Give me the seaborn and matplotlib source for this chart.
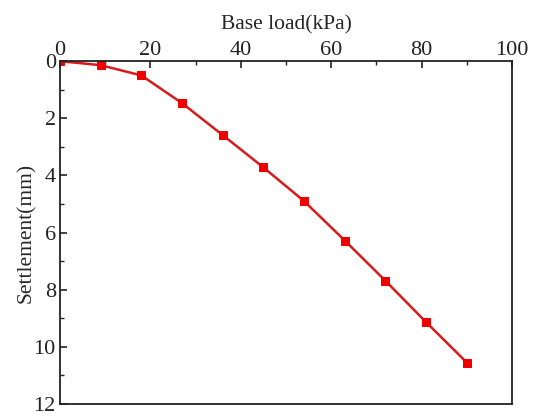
import matplotlib
matplotlib.use("Agg")
import matplotlib.pyplot as plt
from matplotlib.ticker import MultipleLocator
import seaborn as sns
import pandas as pd

base_load = [0, 9, 18, 27, 36, 45, 54, 63, 72, 81, 90]
settlement = [0.0, 0.14, 0.50, 1.47, 2.59, 3.72, 4.90, 6.28, 7.69, 9.14, 10.55]

df = pd.DataFrame({"Base load(kPa)": base_load, "Settlement(mm)": settlement})

sns.set_style("ticks")
plt.rcParams["font.family"] = ["Liberation Serif", "DejaVu Serif"]

fig = plt.figure(figsize=(5.34, 4.19), dpi=100)
ax = fig.add_axes([0.1124, 0.036, 0.8464, 0.818])

sns.lineplot(data=df, x="Base load(kPa)", y="Settlement(mm)", ax=ax,
             color="#d91a1a", linewidth=1.8, marker="s", markersize=5.5,
             markerfacecolor="#ee0000", markeredgecolor="#ee0000")

ax.set_xlim(0, 100)
ax.set_ylim(12, 0)
ax.xaxis.set_major_locator(MultipleLocator(20))
ax.xaxis.set_minor_locator(MultipleLocator(10))
ax.yaxis.set_major_locator(MultipleLocator(2))
ax.yaxis.set_minor_locator(MultipleLocator(1))

ax.xaxis.tick_top()
ax.xaxis.set_label_position("top")
ax.tick_params(axis="both", which="both", direction="in", labelsize=16,
               colors="#222222")
ax.tick_params(axis="both", which="major", length=5, width=1.2)
ax.tick_params(axis="both", which="minor", length=3, width=1.0)
ax.tick_params(axis="x", pad=1)
ax.tick_params(axis="y", pad=3)

ax.set_xlabel("Base load(kPa)", fontsize=15.5, labelpad=8)
ax.set_ylabel("Settlement(mm)", fontsize=15.5, labelpad=-2)

for side in ax.spines.values():
    side.set_linewidth(1.3)
    side.set_color("#222222")

fig.savefig("out.png", dpi=100)
